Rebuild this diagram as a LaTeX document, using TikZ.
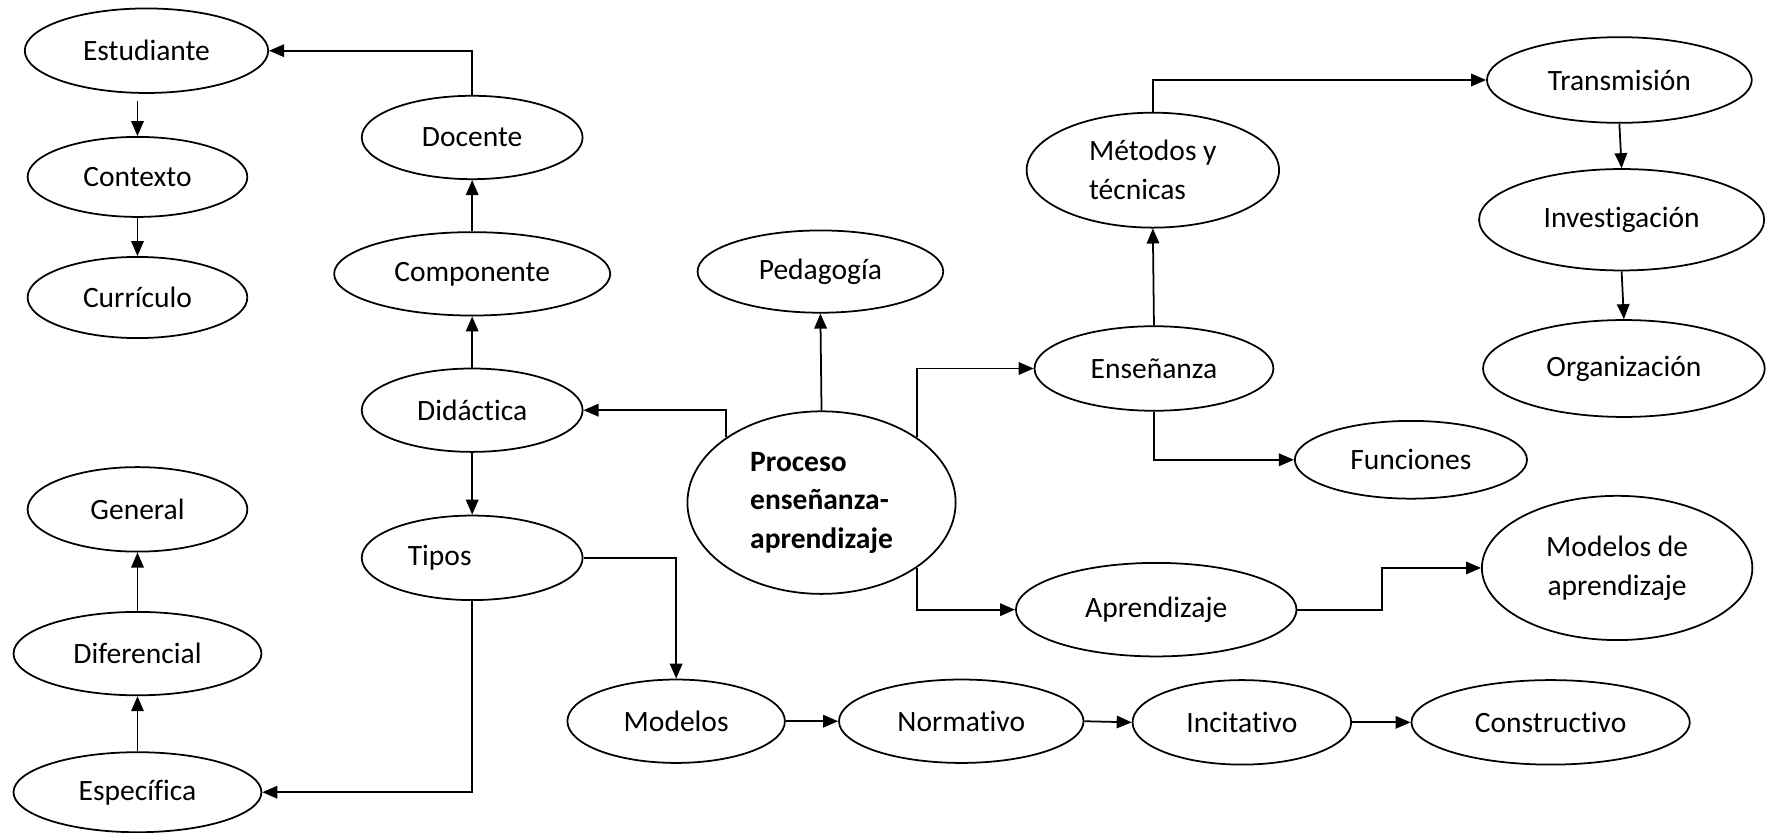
\documentclass[tikz,border=0pt]{standalone}
\usepackage{fontspec}
\setmainfont{Carlito}[Ligatures=NoCommon]
\usetikzlibrary{arrows.meta,shapes.geometric}
\tikzset{
  bub/.style={draw,ellipse,inner sep=0pt,font=\fontsize{16.8}{22}\selectfont},
  sz/.style 2 args={minimum width=#1*0.02254cm,minimum height=#2*0.02254cm}
}

\begin{document}
\begin{tikzpicture}[x=0.02254cm,y=-0.02254cm,
    >={Triangle[length=0.3cm,width=0.25cm]},
    line width=1pt]
  \useasboundingbox (0,0) rectangle (1568,739);

  % left column
  \node[bub,sz={216}{75}] (est) at (130,45) {Estudiante};
  \node[bub,sz={195}{71}] (con) at (122,157) {Contexto};
  \node[bub,sz={195}{72}] (cur) at (122,264) {Currículo};
  \node[bub,sz={195}{75}] (gen) at (122,452) {General};
  \node[bub,sz={220}{74}] (dif) at (122,580) {Diferencial};
  \node[bub,sz={220}{71}] (esp) at (122,703) {Específica};

  % didactica column
  \node[bub,sz={196}{74}] (doc) at (419,122) {Docente};
  \node[bub,sz={245}{74}] (com) at (419,243) {Componente};
  \node[bub,sz={196}{74}] (did) at (419,364) {Didáctica};
  \node[bub,sz={196}{75}] (tip) at (419,495) {Tipos\hspace*{2.2em}};

  % centre
  \node[bub,sz={238}{162},align=left] (pro) at (729,446)
    {\bfseries Proceso\\\bfseries enseñanza-\\\bfseries aprendizaje};
  \node[bub,sz={218}{73}] (ped) at (728,241) {Pedagogía};

  % right side
  \node[bub,sz={224}{102},align=left] (met) at (1023,151) {Métodos y\\técnicas};
  \node[bub,sz={212}{75}] (ens) at (1024,327) {Enseñanza};
  \node[bub,sz={206}{69}] (fun) at (1252,408) {Funciones};
  \node[bub,sz={235}{76}] (tra) at (1437,71) {Transmisión};
  \node[bub,sz={253}{90}] (inv) at (1439,195) {Investigación};
  \node[bub,sz={250}{86}] (org) at (1441,327) {Organización};
  \node[bub,sz={249}{83}] (apr) at (1026,541) {Aprendizaje};
  \node[bub,sz={240}{128},align=center] (mda) at (1435,504) {Modelos de\\aprendizaje};

  % bottom row
  \node[bub,sz={193}{74}] (mod) at (600,640) {Modelos};
  \node[bub,sz={217}{74}] (nor) at (853,640) {Normativo};
  \node[bub,sz={194}{75}] (inc) at (1102,641) {Incitativo};
  \node[bub,sz={247}{75}] (cst) at (1376,641) {Constructivo};

  % connectors
  \draw[->] (doc.north) |- (est.east);
  \draw[->,shorten <=4pt] (est.south -| con.north) -- (con.north);
  \draw[->] (con.south) -- (cur.north);
  \draw[->] (com.north) -- (doc.south);
  \draw[->] (did.north) -- (com.south);
  \draw[->] (pro.north west) |- (did.east);
  \draw[->] (did.south) -- (tip.north);
  \draw[->] (tip.east) -| (mod.north);
  \draw[->] (tip.south) |- (esp.east);
  \draw[->] (esp.north) -- (dif.south);
  \draw[->] (dif.north) -- (gen.south);
  \draw[->] (pro.north) -- (ped.south);
  \draw[->] (pro.north east) |- (ens.west);
  \draw[->] (pro.south east) |- (apr.west);
  \draw[->] (ens.north) -- (met.south);
  \draw[->] (met.north) |- (tra.west);
  \draw[->] (ens.south) |- (fun.west);
  \draw[->] (tra.south) -- (inv.north);
  \draw[->] (inv.south) -- (org.north);
  \draw[->] (apr.east) -- ++(75,0) |- (mda.west);
  \draw[->] (mod.east) -- (nor.west);
  \draw[->] (nor.east) -- (inc.west);
  \draw[->] (inc.east) -- (cst.west);
\end{tikzpicture}
\end{document}
